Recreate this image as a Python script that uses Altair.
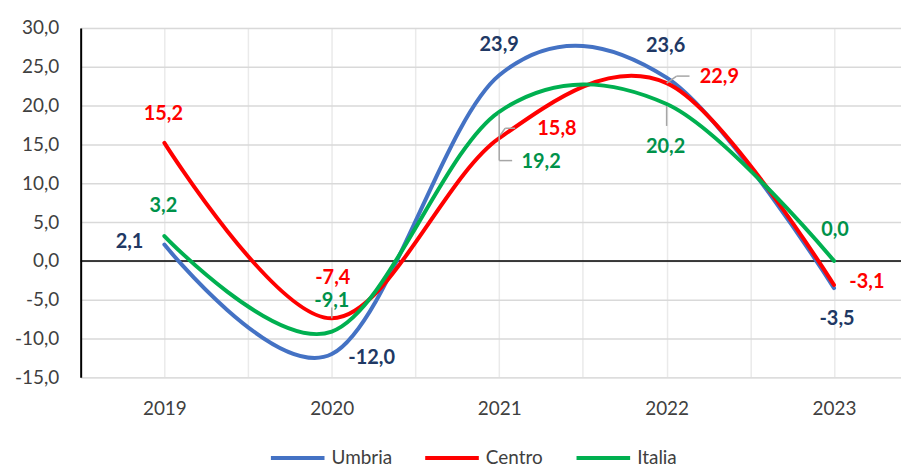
import altair as alt
import pandas as pd

years = [2019, 2020, 2021, 2022, 2023]
series_names = ["Umbria", "Centro", "Italia"]
umbria = [2.1, -12.0, 23.9, 23.6, -3.5]
centro = [15.2, -7.4, 15.8, 22.9, -3.1]
italia = [3.2, -9.1, 19.2, 20.2, 0.0]

line_colors = ["#4472C4", "#FF0000", "#00B050"]
label_colors = {"Umbria": "#203864", "Centro": "#FF0000", "Italia": "#00924A"}

# label pixel offsets (dx, dy) from each point
label_offsets = {
    "Umbria": [(-35, -3), (40, 4), (0, -30), (-1, -32), (3, 31)],
    "Centro": [(-1, -29), (1, -41), (58, -9), (53, -6), (33, -3)],
    "Italia": [(-1, -30), (0, -31), (42, 50), (-1, 43), (1, -31)],
}

# leader segments: (series, index, x0off, y0off, x1off, y1off)
leaders = [
    ("Centro", 1, 0, 0, 0, -11),
    ("Centro", 2, 1, -3, 6, -10),
    ("Centro", 2, 6, -10, 16, -10),
    ("Italia", 2, 0, 2, 0, 49),
    ("Italia", 2, 0, 49, 13, 49),
    ("Centro", 3, 0, 0, 10, -7),
    ("Centro", 3, 10, -7, 23, -7),
    ("Italia", 3, 0, 2, 0, 22),
]

values = {"Umbria": umbria, "Centro": centro, "Italia": italia}

rows = []
for s in series_names:
    for y, v in zip(years, values[s]):
        rows.append({"year": y, "value": v, "series": s})
df = pd.DataFrame(rows)

FONT = "Lato"

xscale = alt.Scale(domain=[2018.5, 2023.4], nice=False, zero=False)
yscale = alt.Scale(domain=[-15, 30], nice=False, zero=False)

x_axis = alt.Axis(
    values=[2018.5 + 0.5 * i for i in range(10)],
    labelExpr="datum.value % 1 == 0 ? format(datum.value, 'd') : ''",
    labelOverlap=False,
    grid=True,
    gridColor="#EAEAEA",
    gridWidth=1.5,
    domain=False,
    ticks=False,
    labelPadding=22,
    labelFontSize=19,
    labelColor="#404040",
    labelFont=FONT,
    title=None,
)
y_axis = alt.Axis(
    values=list(range(-15, 31, 5)),
    labelExpr="replace(replace(format(datum.value, '.1f'), '.', ','), '\u2212', '-')",
    labelOverlap=False,
    grid=True,
    gridColor="#D9D9D9",
    gridWidth=1.5,
    domain=True,
    domainColor="#000000",
    domainWidth=2,
    ticks=False,
    labelPadding=22,
    labelFontSize=19,
    labelColor="#404040",
    labelFont=FONT,
    title=None,
)


def X():
    return alt.X("year:Q", scale=xscale, axis=x_axis)


def Y():
    return alt.Y("value:Q", scale=yscale, axis=y_axis)


zero = alt.Chart(pd.DataFrame({"value": [0]})).mark_rule(
    color="#000000", strokeWidth=1.5
).encode(y=Y())

lines = alt.Chart(df).mark_line(
    interpolate="cardinal", tension=0, strokeWidth=4, strokeCap="round"
).encode(
    x=X(),
    y=Y(),
    color=alt.Color(
        "series:N",
        scale=alt.Scale(domain=series_names, range=line_colors),
        sort=series_names,
        legend=alt.Legend(
            title=None,
            orient="none",
            legendX=189,
            legendY=403,
            direction="horizontal",
            symbolType="stroke",
            symbolSize=2900,
            symbolStrokeWidth=4,
            labelFontSize=19,
            labelFont=FONT,
            labelColor="#404040",
            labelOffset=5,
            columnPadding=25,
            padding=0,
        ),
    ),
)

layers = [zero, lines]

for s, i, x0, y0, x1, y1 in leaders:
    d = pd.DataFrame({"year": [years[i]], "value": [values[s][i]]})
    layers.append(
        alt.Chart(d).mark_rule(
            color="#A6A6A6", strokeWidth=1.5,
            xOffset=x0, yOffset=y0, x2Offset=x1, y2Offset=y1,
        ).encode(x=X(), y=Y(), x2="year:Q", y2="value:Q")
    )

for s in series_names:
    for i, (y, v) in enumerate(zip(years, values[s])):
        dx, dy = label_offsets[s][i]
        d = pd.DataFrame({"year": [y], "value": [v],
                          "label": [f"{v:.1f}".replace(".", ",")]})
        layers.append(
            alt.Chart(d).mark_text(
                font=FONT, fontSize=20, fontWeight="bold",
                color=label_colors[s], dx=dx, dy=dy,
                align="center", baseline="middle",
            ).encode(x=X(), y=Y(), text="label:N")
        )

chart = alt.layer(*layers).properties(
    width=824,
    height=351,
    autosize=alt.AutoSizeParams(type="none"),
    padding={"left": 73, "top": 19, "right": 0, "bottom": 90},
).configure_view(stroke=None).configure(background="#FFFFFF")

chart.save("out.html", embed_options={"renderer": "svg", "actions": False})
